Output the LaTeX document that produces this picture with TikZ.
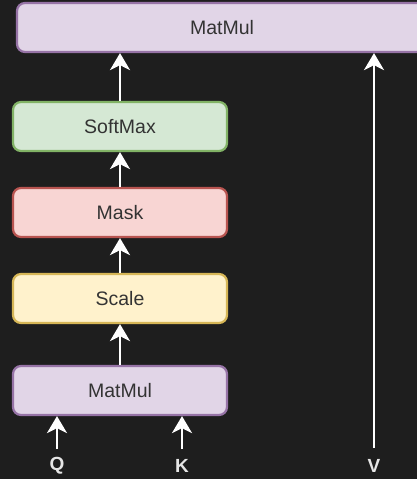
\documentclass[tikz,border=0pt]{standalone}
\usepackage{fontspec}
\setmainfont{Liberation Sans}
\usetikzlibrary{arrows.meta}
\definecolor{bg}{HTML}{1E1E1E}
\definecolor{purf}{HTML}{E1D5E7}\definecolor{purd}{HTML}{9673A6}
\definecolor{grnf}{HTML}{D5E8D4}\definecolor{grnd}{HTML}{82B366}
\definecolor{redf}{HTML}{F8D5D3}\definecolor{redd}{HTML}{B85450}
\definecolor{yelf}{HTML}{FFF2CC}\definecolor{yeld}{HTML}{D6B656}
\definecolor{txt}{HTML}{333333}
\definecolor{lbl}{HTML}{E6E6E6}
\tikzset{
  blk/.style={draw, line width=2.2pt, rounded corners=8pt, minimum width=214pt, minimum height=49pt,
    text=txt, font=\fontsize{19.5}{22}\selectfont, inner sep=0pt},
  arr/.style={draw=white, line width=2.6pt, -{Stealth[width=20pt,length=17pt,inset=5pt]}},
  lab/.style={text=lbl, font=\bfseries\fontsize{19}{21}\selectfont, inner sep=0pt}
}
\begin{document}
\begin{tikzpicture}[x=1pt,y=-1pt]
\useasboundingbox (0,0) rectangle (417,479);
\fill[bg] (0,0) rectangle (417,479);
\begin{scope}
\clip (0,0) rectangle (417,479);
\node[blk, fill=purf, draw=purd, minimum width=410pt] (top) at (222,27.5) {MatMul};
\node[blk, fill=grnf, draw=grnd] (soft) at (120,126.5) {SoftMax};
\node[blk, fill=redf, draw=redd] (mask) at (120,212.5) {Mask};
\node[blk, fill=yelf, draw=yeld] (scale) at (120,298.5) {Scale};
\node[blk, fill=purf, draw=purd] (mm) at (120,390.5) {MatMul};
\node[lab] (q) at (57,466) {Q};
\node[lab] (k) at (182,466) {K};
\node[lab] (v) at (374,466) {V};
\coordinate (qs) at (57,449);
\coordinate (ks) at (182,449);
\coordinate (vs) at (374,448);
\draw[arr] (soft.north) -- (soft.north |- top.south);
\draw[arr] (mask.north) -- (soft.south);
\draw[arr] (scale.north) -- (mask.south);
\draw[arr] (mm.north) -- (scale.south);
\draw[arr] (qs) -- (qs |- mm.south);
\draw[arr] (ks) -- (ks |- mm.south);
\draw[arr] (vs) -- (vs |- top.south);
\end{scope}
\end{tikzpicture}
\end{document}
